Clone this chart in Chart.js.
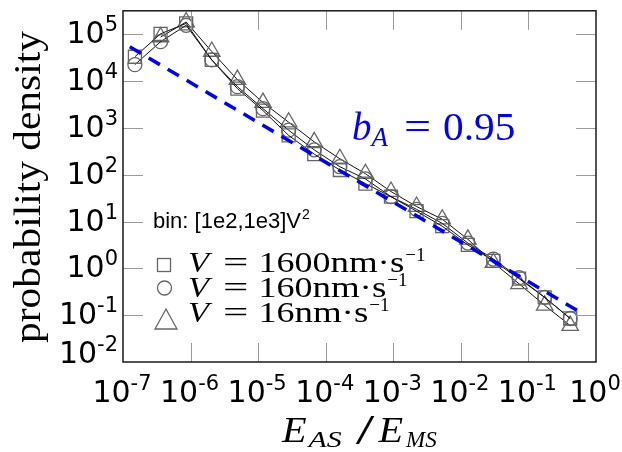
<!DOCTYPE html>
<html>
<head>
<meta charset="utf-8">
<script src="https://cdn.jsdelivr.net/npm/chart.js@4.4.0/dist/chart.umd.min.js"></script>
<style>
  html, body { margin: 0; padding: 0; background: #fff; }
  #wrap { width: 622px; height: 452px; }
</style>
</head>
<body>
<div id="wrap"><canvas id="myChart" width="622" height="452"></canvas></div>
<script>
// bin centres of E_AS/E_MS
const binX = [1.5e-7, 3.6e-7, 8.6e-7, 2.06e-6, 4.93e-6, 1.18e-5, 2.83e-5, 6.76e-5, 1.62e-4,
  3.87e-4, 9.25e-4, 2.21e-3, 5.3e-3, 1.27e-2, 3.03e-2, 7.26e-2, 0.174, 0.415];

// probability density per driving speed
const v1600 = [33000, 102000, 170000, 28200, 6900, 2340, 690, 275, 126,
  64.6, 33.9, 16.6, 7.94, 3.16, 1.45, 0.603, 0.24, 0.085];
const v160 = [22400, 69200, 155000, 28200, 7590, 2570, 891, 339, 148,
  81.3, 33.9, 18.2, 9.12, 3.47, 1.58, 0.631, 0.24, 0.085];
const v16 = [null, 87100, 182000, 42700, 10700, 3470, 1320, 501, 219,
  105, 43.7, 20.9, 11.2, 4.17, 1.32, 0.468, 0.162, 0.06];

// power-law fit, b_A = 0.95
const fitX = [1.26e-7, 0.62];
const fitY = [53700, 0.11];

// decade ticks
const xPowers = [-7, -6, -5, -4, -3, -2, -1, 0];
const yPowers = [-2, -1, 0, 1, 2, 3, 4, 5];

const markerGray = "#666666";
const serif = '"Liberation Serif", "Times New Roman", serif';
const sans = '"DejaVu Sans", sans-serif';
const arial = '"Liberation Sans", Arial, sans-serif';

function pts(xs, ys) {
  return xs.map((x, i) => ({ x: x, y: ys[i] }));
}

function series(label, ys, style, r) {
  return {
    label: label,
    data: pts(binX, ys),
    borderColor: "#111",
    borderWidth: 1,
    pointStyle: style,
    pointRadius: r,
    pointBorderColor: markerGray,
    pointBorderWidth: 1.3,
    pointBackgroundColor: "rgba(0,0,0,0)",
    fill: false,
    tension: 0,
  };
}

// run of text pieces left to right: [text, font, dy, gapBefore, xStretch]
function rich(ctx, list, x, base, color) {
  ctx.fillStyle = color || "#000";
  ctx.textAlign = "left";
  ctx.textBaseline = "alphabetic";
  let cx = x;
  list.forEach(p => {
    const k = p[4] || 1;
    cx += p[3] || 0;
    ctx.font = p[1];
    ctx.save();
    ctx.translate(cx, base + (p[2] || 0));
    ctx.scale(k, 1);
    ctx.fillText(p[0], 0, 0);
    ctx.restore();
    cx += ctx.measureText(p[0]).width * k;
  });
}

// "10" with a raised exponent
function powerLabel(ctx, p, xpos, base, align) {
  const exp = String(p);
  ctx.font = "30px " + sans;
  const w1 = ctx.measureText("10").width;
  ctx.font = "21px " + sans;
  const w2 = ctx.measureText(exp).width;
  const total = w1 + w2;
  let x0 = xpos;
  if (align === "center") x0 = xpos - total / 2;
  if (align === "right") x0 = xpos - total;
  rich(ctx, [["10", "30px " + sans], [exp, "21px " + sans, -12]], x0, base);
}

const decor = {
  id: "decor",
  afterDraw(chart) {
    const ctx = chart.ctx;
    const a = chart.chartArea;
    const sx = chart.scales.x;
    const sy = chart.scales.y;
    ctx.save();

    // inward ticks on all sides
    ctx.strokeStyle = "#9a9a9a";
    ctx.lineWidth = 1;
    ctx.beginPath();
    xPowers.forEach(p => {
      const px = Math.round(sx.getPixelForValue(Math.pow(10, p))) + 0.5;
      if (px <= a.left + 1 || px >= a.right - 1) return;
      ctx.moveTo(px, a.top); ctx.lineTo(px, a.top + 19);
      ctx.moveTo(px, a.bottom); ctx.lineTo(px, a.bottom - 19);
    });
    yPowers.forEach(p => {
      const py = Math.round(sy.getPixelForValue(Math.pow(10, p))) + 0.5;
      if (py <= a.top + 1 || py >= a.bottom - 1) return;
      ctx.moveTo(a.left, py); ctx.lineTo(a.left + 20, py);
      ctx.moveTo(a.right, py); ctx.lineTo(a.right - 20, py);
    });
    ctx.stroke();

    // frame
    ctx.strokeStyle = "#1a1a1a";
    ctx.lineWidth = 1.5;
    ctx.strokeRect(a.left, a.top, a.right - a.left, a.bottom - a.top);

    // tick labels
    xPowers.forEach(p => {
      powerLabel(ctx, p, sx.getPixelForValue(Math.pow(10, p)) - 1, 402, "center");
    });
    yPowers.forEach((p, i) => {
      const py = sy.getPixelForValue(Math.pow(10, p));
      powerLabel(ctx, p, 118, py + (i === 0 ? 1 : 9), "right");
    });

    // axis titles
    ctx.save();
    ctx.translate(40, 187);
    ctx.rotate(-Math.PI / 2);
    ctx.scale(1.09, 1);
    ctx.fillStyle = "#000";
    ctx.textAlign = "center";
    ctx.textBaseline = "alphabetic";
    ctx.font = "38px " + serif;
    ctx.fillText("probability density", 0, 0);
    ctx.restore();

    rich(ctx, [
      ["E", "italic 35px " + serif, 0, 0, 1.15],
      ["AS", "italic 23px " + serif, 5, 2, 1.3],
      ["/", "42px " + serif, 2, 14, 1.6],
      ["E", "italic 35px " + serif, 0, 4, 1.15],
      ["MS", "italic 23px " + serif, 5, 3, 1.0],
    ], 282, 442);

    // fit annotation
    rich(ctx, [
      ["b", "italic 39px " + serif],
      ["A", "italic 27px " + serif, 6, 0],
      ["=", "40px " + serif, 0, 16, 1.2],
      ["0.95", "39px " + serif, 0, 12, 1.06],
    ], 352, 140, "#0000ff");

    // legend block
    rich(ctx, [
      ["bin: [1e2,1e3]V", "22px " + arial],
      ["2", "14px " + arial, -9, 1],
    ], 153, 228);
    const rows = [
      ["1600", 272],
      ["160", 297],
      ["16", 322],
    ];
    rows.forEach(r => {
      rich(ctx, [
        ["V", "italic 30px " + serif, 0, 0, 1.15],
        ["=", "30px " + serif, 0, 14, 1.5],
        [r[0], "30px " + serif, 0, 10, 1.2],
        ["nm\u00b7s", "30px " + serif, 0, 0, 1.23],
        ["\u22121", "19px " + serif, -11, 1],
      ], 188, r[1]);
    });
    ctx.strokeStyle = markerGray;
    ctx.lineWidth = 1.3;
    ctx.strokeRect(157.5, 258.5, 13, 13);
    ctx.beginPath();
    ctx.arc(164.5, 288, 7, 0, Math.PI * 2);
    ctx.stroke();
    ctx.beginPath();
    ctx.moveTo(166, 309);
    ctx.lineTo(177, 329);
    ctx.lineTo(155, 329);
    ctx.closePath();
    ctx.stroke();

    ctx.restore();
  },
};

const ctx = document.getElementById("myChart");

new Chart(ctx, {
  type: "line",
  data: {
    datasets: [
      {
        label: "fit",
        data: pts(fitX, fitY),
        borderColor: "#0000ff",
        borderWidth: 3.5,
        borderDash: [13, 9],
        pointRadius: 0,
        fill: false,
      },
      series("V = 1600nm·s⁻¹", v1600, "rect", 9.2),
      series("V = 160nm·s⁻¹", v160, "circle", 7),
      series("V = 16nm·s⁻¹", v16, "triangle", 9.5),
    ],
  },
  options: {
    responsive: false,
    animation: false,
    devicePixelRatio: 1,
    layout: { padding: { top: 7, right: 26, left: 0, bottom: 0 } },
    plugins: {
      legend: { display: false },
      tooltip: { enabled: false },
    },
    scales: {
      x: {
        type: "logarithmic",
        min: 1e-7,
        max: 1,
        grid: { display: false },
        border: { display: false },
        ticks: { display: false },
        afterFit: s => { s.height = 90; },
      },
      y: {
        type: "logarithmic",
        min: 0.01,
        max: Math.pow(10, 5.5),
        grid: { display: false },
        border: { display: false },
        ticks: { display: false },
        afterFit: s => { s.width = 123; },
      },
    },
  },
  plugins: [decor],
});
</script>
</body>
</html>
